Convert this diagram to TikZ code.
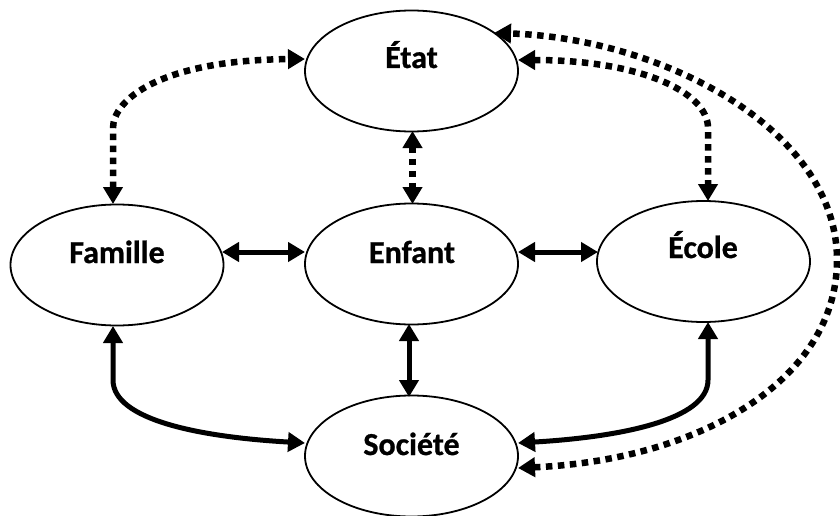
\documentclass[tikz,border=0pt]{standalone}
\usepackage{fontspec}
\setmainfont{Carlito}
\newfontfamily\lblfont{Carlito Bold}[FakeBold=0.8]
\usetikzlibrary{shapes.geometric,arrows.meta}
\begin{document}
\begin{tikzpicture}[x=1pt,y=-1pt,
  ell/.style={draw=black,line width=1.8pt,ellipse,minimum width=213pt,minimum height=121pt,inner sep=0pt},
  lbl/.style={anchor=base,font=\lblfont\fontsize{32}{32}\selectfont,text=black,inner sep=0pt},
  solidarr/.style={line width=5pt,{Triangle[length=17pt,width=19pt]}-{Triangle[length=17pt,width=19pt]}},
  dotarr/.style={line width=6.5pt,dash pattern=on 6.5pt off 5.5pt,{Triangle[length=17pt,width=19pt]}-{Triangle[length=17pt,width=19pt]}}
]
\useasboundingbox (0,0) rectangle (840,516);
% ellipses
\node[ell] (etat) at (411.5,71) {};
\node[ell] (famille) at (117,265) {};
\node[ell] (enfant) at (411.5,264) {};
\node[ell] (ecole) at (703.5,261.5) {};
\node[ell] (societe) at (411.5,456) {};
% labels
\node[lbl] (tEtat) at (411.5,68) {État};
\node[lbl] (tFam) at (117,263) {Famille};
\node[lbl] (tEnf) at (412,263) {Enfant};
\node[lbl] (tEco) at (703,258) {École};
\node[lbl] (tSoc) at (411.5,455) {Société};
% anchor points
\coordinate (famTop) at (113,204);
\coordinate (famBot) at (113,326);
\coordinate (etatL) at (305,59);
\coordinate (etatR) at (518,60);
\coordinate (etatTR) at (494,33);
\coordinate (etatB) at (412.5,131);
\coordinate (enfT) at (412.5,204);
\coordinate (enfB) at (409,324);
\coordinate (enfL) at (305,252);
\coordinate (enfR) at (518,252);
\coordinate (famR) at (222,252);
\coordinate (ecoL) at (598,252);
\coordinate (ecoT) at (708,201);
\coordinate (ecoB) at (708,322);
\coordinate (socT) at (409,397);
\coordinate (socL) at (305,443);
\coordinate (socR1) at (518,443);
\coordinate (socR2) at (518,468);
% dotted connectors
\draw[dotarr] (etatB) -- (enfT);
\draw[dotarr] (famTop) -- (113,128) .. controls (113,100) and (160,60) .. (etatL);
\draw[dotarr] (etatR) .. controls (640,60) and (708,92) .. (708,128) -- (ecoT);
\draw[dotarr] (socR2) .. controls (700,460) and (837,380) .. (837,260) .. controls (837,128) and (660,38) .. (etatTR);
% solid connectors
\draw[solidarr] (famR) -- (enfL);
\draw[solidarr] (enfR) -- (ecoL);
\draw[solidarr] (enfB) -- (socT);
\draw[solidarr] (famBot) -- (113,380) .. controls (113,420) and (200,437) .. (socL);
\draw[solidarr] (ecoB) -- (708,380) .. controls (708,420) and (620,437) .. (socR1);
\end{tikzpicture}
\end{document}
